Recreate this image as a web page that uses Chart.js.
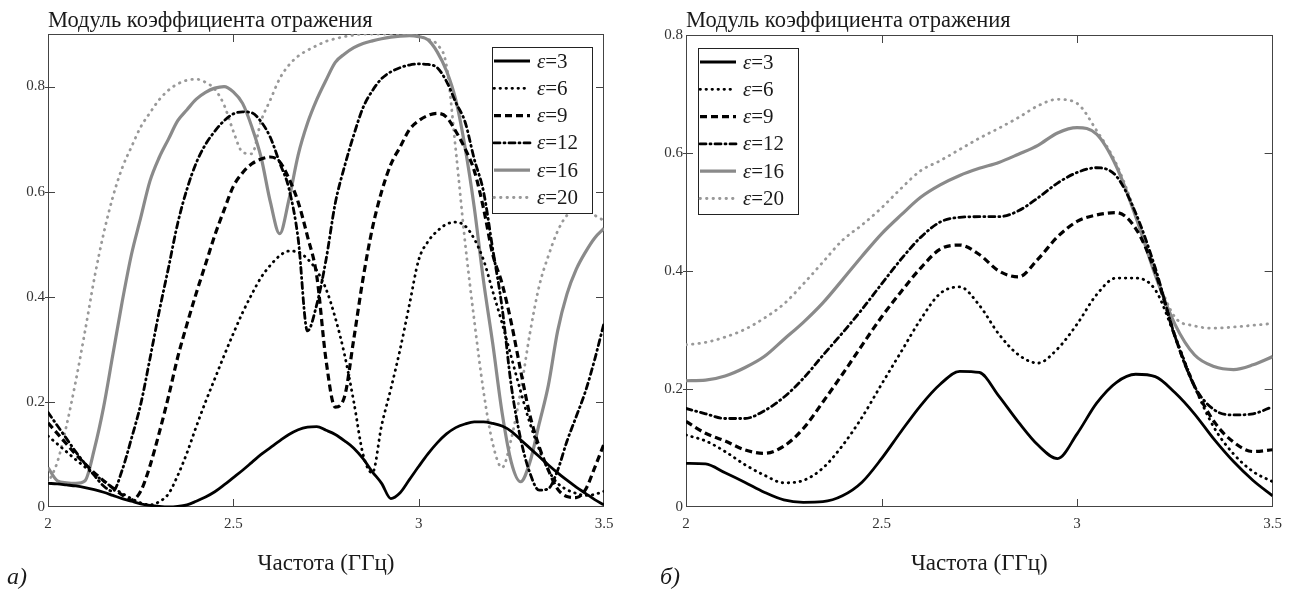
<!DOCTYPE html>
<html>
<head>
<meta charset="utf-8">
<script src="https://cdn.jsdelivr.net/npm/chart.js@4.4.1/dist/chart.umd.min.js"></script>
<style>
  html, body { margin: 0; padding: 0; background: #fff; }
  body { width: 1290px; height: 592px; position: relative; overflow: hidden; }
  .box { position: absolute; top: 0; height: 592px; }
  #boxA { left: 0; width: 640px; }
  #boxB { left: 645px; width: 645px; }
</style>
</head>
<body>
<div class="box" id="boxA"><canvas id="chartA"></canvas></div>
<div class="box" id="boxB"><canvas id="chartB"></canvas></div>
<script>
// --- Données ---
const epsLabels = ['3', '6', '9', '12', '16', '20'];
const xTicks  = [2, 2.5, 3, 3.5];
const xTickLabels = ['2', '2.5', '3', '3.5'];
const yTicksA = [0, 0.2, 0.4, 0.6, 0.8];
const yTicksB = [0, 0.2, 0.4, 0.6, 0.8];
const yTickLabels = ['0', '0.2', '0.4', '0.6', '0.8'];

// chart a) : pas de 0.025 ГГц
const freqA = [
  2, 2.025, 2.05, 2.075, 2.1, 2.125, 2.15, 2.175, 2.2, 2.225,
  2.25, 2.275, 2.3, 2.325, 2.35, 2.375, 2.4, 2.425, 2.45, 2.475,
  2.5, 2.525, 2.55, 2.575, 2.6, 2.625, 2.65, 2.675, 2.7, 2.725,
  2.75, 2.775, 2.8, 2.825, 2.85, 2.875, 2.9, 2.925, 2.95, 2.975,
  3, 3.025, 3.05, 3.075, 3.1, 3.125, 3.15, 3.175, 3.2, 3.225,
  3.25, 3.275, 3.3, 3.325, 3.35, 3.375, 3.4, 3.425, 3.45, 3.475, 3.5
];
const eps3A = [
  0.045, 0.044, 0.042, 0.040, 0.037, 0.033, 0.028, 0.022, 0.016, 0.011,
  0.006, 0.003, 0.001, 0.000, 0.001, 0.004, 0.011, 0.019, 0.029, 0.042,
  0.056, 0.070, 0.085, 0.100, 0.113, 0.126, 0.138, 0.147, 0.152, 0.153,
  0.146, 0.138, 0.126, 0.112, 0.092, 0.067, 0.045, 0.016, 0.027, 0.052,
  0.077, 0.101, 0.122, 0.139, 0.151, 0.158, 0.162, 0.162, 0.159, 0.154,
  0.144, 0.128, 0.112, 0.096, 0.080, 0.065, 0.051, 0.038, 0.026, 0.014, 0.004
];
const eps6A = [
  0.135, 0.120, 0.105, 0.090, 0.076, 0.062, 0.049, 0.037, 0.026, 0.016,
  0.008, 0.004, 0.010, 0.025, 0.060, 0.103, 0.153, 0.200, 0.244, 0.288,
  0.330, 0.370, 0.405, 0.437, 0.460, 0.478, 0.487, 0.485, 0.472, 0.450,
  0.415, 0.360, 0.290, 0.200, 0.100, 0.065, 0.155, 0.225, 0.300, 0.385,
  0.470, 0.505, 0.525, 0.538, 0.542, 0.535, 0.510, 0.470, 0.410, 0.350,
  0.285, 0.220, 0.160, 0.110, 0.070, 0.045, 0.033, 0.026, 0.022, 0.024, 0.030
];
const eps9A = [
  0.160, 0.140, 0.120, 0.100, 0.082, 0.065, 0.050, 0.036, 0.023, 0.013,
  0.030, 0.078, 0.141, 0.210, 0.285, 0.348, 0.407, 0.462, 0.517, 0.565,
  0.610, 0.636, 0.653, 0.662, 0.666, 0.657, 0.625, 0.580, 0.515, 0.440,
  0.280, 0.190, 0.210, 0.320, 0.435, 0.530, 0.600, 0.652, 0.685, 0.718,
  0.735, 0.745, 0.749, 0.742, 0.715, 0.682, 0.640, 0.568, 0.480, 0.425,
  0.350, 0.260, 0.175, 0.115, 0.070, 0.034, 0.020, 0.018, 0.033, 0.075, 0.120
];
const eps12A = [
  0.180, 0.155, 0.130, 0.105, 0.082, 0.060, 0.040, 0.030, 0.070, 0.130,
  0.195, 0.282, 0.372, 0.455, 0.540, 0.605, 0.655, 0.690, 0.715, 0.735,
  0.748, 0.752, 0.750, 0.733, 0.703, 0.655, 0.606, 0.510, 0.335, 0.385,
  0.470, 0.578, 0.648, 0.708, 0.760, 0.792, 0.815, 0.828, 0.836, 0.841,
  0.843, 0.842, 0.836, 0.810, 0.770, 0.733, 0.662, 0.600, 0.490, 0.380,
  0.230, 0.130, 0.065, 0.032, 0.035, 0.070, 0.125, 0.172, 0.220, 0.281, 0.350
];
const eps16A = [
  0.075, 0.050, 0.046, 0.045, 0.050, 0.110, 0.190, 0.290, 0.390, 0.480,
  0.550, 0.620, 0.665, 0.700, 0.735, 0.756, 0.776, 0.789, 0.797, 0.800,
  0.790, 0.768, 0.723, 0.665, 0.580, 0.520, 0.585, 0.670, 0.730, 0.775,
  0.812, 0.846, 0.862, 0.874, 0.882, 0.887, 0.891, 0.894, 0.896, 0.897,
  0.895, 0.889, 0.866, 0.830, 0.775, 0.685, 0.570, 0.430, 0.310, 0.180,
  0.085, 0.048, 0.085, 0.158, 0.232, 0.335, 0.405, 0.452, 0.485, 0.512, 0.530
];
const eps20A = [
  0.045, 0.085, 0.155, 0.240, 0.335, 0.435, 0.520, 0.590, 0.645, 0.685,
  0.723, 0.750, 0.775, 0.793, 0.805, 0.812, 0.814, 0.808, 0.795, 0.765,
  0.715, 0.675, 0.672, 0.735, 0.775, 0.815, 0.841, 0.858, 0.869, 0.878,
  0.886, 0.891, 0.895, 0.898, 0.900, 0.900, 0.900, 0.900, 0.900, 0.899,
  0.896, 0.890, 0.880, 0.840, 0.680, 0.505, 0.355, 0.220, 0.120, 0.075,
  0.130, 0.220, 0.330, 0.420, 0.478, 0.525, 0.555, 0.565, 0.565, 0.555, 0.545
];

// chart б) : pas de 0.05 ГГц
const freqB = [
  2, 2.05, 2.1, 2.15, 2.2, 2.25, 2.3, 2.35, 2.4, 2.45,
  2.5, 2.55, 2.6, 2.65, 2.7, 2.75, 2.8, 2.85, 2.9, 2.95,
  3, 3.05, 3.1, 3.15, 3.2, 3.25, 3.3, 3.35, 3.4, 3.45, 3.5
];
const eps3B = [
  0.074, 0.073, 0.058, 0.042, 0.025, 0.012, 0.008, 0.009, 0.019, 0.042,
  0.082, 0.128, 0.172, 0.208, 0.230, 0.228, 0.188, 0.144, 0.105, 0.082,
  0.124, 0.176, 0.211, 0.225, 0.221, 0.194, 0.158, 0.115, 0.077, 0.045, 0.019
];
const eps6B = [
  0.122, 0.112, 0.094, 0.072, 0.054, 0.041, 0.045, 0.066, 0.104, 0.152,
  0.208, 0.263, 0.318, 0.362, 0.373, 0.342, 0.293, 0.258, 0.244, 0.268,
  0.310, 0.360, 0.388, 0.388, 0.368, 0.290, 0.205, 0.135, 0.090, 0.060, 0.043
];
const eps9B = [
  0.145, 0.125, 0.112, 0.097, 0.091, 0.103, 0.133, 0.178, 0.225, 0.274,
  0.322, 0.365, 0.405, 0.437, 0.444, 0.428, 0.400, 0.390, 0.420, 0.458,
  0.484, 0.495, 0.499, 0.472, 0.398, 0.290, 0.205, 0.145, 0.110, 0.094, 0.097
];
const eps12B = [
  0.167, 0.158, 0.150, 0.150, 0.163, 0.186, 0.218, 0.257, 0.295, 0.335,
  0.378, 0.420, 0.457, 0.483, 0.491, 0.492, 0.492, 0.502, 0.524, 0.549,
  0.567, 0.575, 0.561, 0.498, 0.405, 0.290, 0.205, 0.165, 0.156, 0.158, 0.170
];
const eps16B = [
  0.214, 0.215, 0.222, 0.236, 0.255, 0.284, 0.313, 0.346, 0.385, 0.425,
  0.463, 0.495, 0.525, 0.546, 0.562, 0.574, 0.584, 0.598, 0.613, 0.634,
  0.643, 0.632, 0.578, 0.492, 0.393, 0.310, 0.258, 0.238, 0.233, 0.241, 0.255
];
const eps20B = [
  0.275, 0.279, 0.288, 0.301, 0.320, 0.344, 0.378, 0.415, 0.452, 0.478,
  0.507, 0.540, 0.570, 0.587, 0.606, 0.625, 0.642, 0.660, 0.680, 0.691,
  0.684, 0.638, 0.582, 0.497, 0.398, 0.322, 0.307, 0.303, 0.305, 0.308, 0.311
];

// --- Styles des courbes (un par ε) ---
const lineStyles = [
  { color: '#000000', width: 2.8, dash: [],            cap: 'butt'  },
  { color: '#000000', width: 2.8, dash: [0.5, 5.5],    cap: 'round' },
  { color: '#000000', width: 3.2, dash: [7, 4],        cap: 'butt'  },
  { color: '#000000', width: 2.8, dash: [6, 4, 1, 4],  cap: 'round' },
  { color: '#8a8a8a', width: 3.2, dash: [],            cap: 'butt'  },
  { color: '#999999', width: 2.8, dash: [0.5, 6],      cap: 'round' }
];

const FONT = '"Liberation Serif", "Times New Roman", serif';
const TITLE = 'Модуль коэффициента отражения';
const XTITLE = 'Частота (ГГц)';

function buildDatasets(freq, series) {
  return series.map((vals, i) => ({
    label: 'ε=' + epsLabels[i],
    data: freq.map((f, k) => ({ x: f, y: vals[k] })),
    borderColor: lineStyles[i].color,
    borderWidth: lineStyles[i].width,
    borderDash: lineStyles[i].dash,
    borderCapStyle: lineStyles[i].cap,
    borderJoinStyle: 'round',
    pointRadius: 0,
    fill: false,
    tension: 0.4,
    cubicInterpolationMode: 'monotone'
  }));
}

// --- Cadre, graduations intérieures, titre, légende ---
function makeDecor(legendSide, tag, tagX) {
  return {
    id: 'decor',
    beforeDatasetsDraw(chart) {
      const { ctx, chartArea: a, scales: { x, y } } = chart;
      ctx.save();
      ctx.strokeStyle = '#444';
      ctx.lineWidth = 1;
      ctx.strokeRect(Math.round(a.left) + 0.5, Math.round(a.top) + 0.5,
        Math.round(a.right - a.left) - 1, Math.round(a.bottom - a.top) - 1);
      ctx.beginPath();
      x.ticks.forEach(t => {
        const px = Math.round(x.getPixelForValue(t.value)) + 0.5;
        if (px < a.left + 2 || px > a.right - 2) return;
        ctx.moveTo(px, a.bottom); ctx.lineTo(px, a.bottom - 8);
        ctx.moveTo(px, a.top);    ctx.lineTo(px, a.top + 8);
      });
      y.ticks.forEach(t => {
        const py = Math.round(y.getPixelForValue(t.value)) + 0.5;
        if (py < a.top + 2 || py > a.bottom - 2) return;
        ctx.moveTo(a.left - 3, py); ctx.lineTo(a.left + 7, py);
        ctx.moveTo(a.right, py);    ctx.lineTo(a.right - 8, py);
      });
      ctx.stroke();
      ctx.restore();
    },
    afterDatasetsDraw(chart) {
      const { ctx, chartArea: a } = chart;
      const w = 100, h = 166;
      const lx = legendSide === 'right' ? a.right - 12 - w : a.left + 12;
      const ly = a.top + 13;
      ctx.save();
      ctx.fillStyle = '#fff';
      ctx.fillRect(lx, ly, w, h);
      ctx.strokeStyle = '#222';
      ctx.lineWidth = 1;
      ctx.setLineDash([]);
      ctx.strokeRect(lx + 0.5, ly + 0.5, w, h);
      chart.data.datasets.forEach((ds, i) => {
        const yy = ly + 14 + i * 27.3;
        ctx.beginPath();
        ctx.strokeStyle = ds.borderColor;
        ctx.lineWidth = ds.borderWidth;
        ctx.setLineDash(ds.borderDash);
        ctx.lineCap = ds.borderCapStyle;
        ctx.moveTo(lx + 2, yy);
        ctx.lineTo(lx + 38, yy);
        ctx.stroke();
        ctx.setLineDash([]);
        ctx.fillStyle = '#1a1a1a';
        ctx.textBaseline = 'middle';
        ctx.textAlign = 'left';
        ctx.font = 'italic 21px ' + FONT;
        ctx.fillText('ε', lx + 45, yy + 1);
        const ew = ctx.measureText('ε').width;
        ctx.font = '21px ' + FONT;
        ctx.fillText('=' + epsLabels[i], lx + 45 + ew, yy + 1);
      });
      ctx.restore();
    },
    afterDraw(chart) {
      const { ctx, chartArea: a } = chart;
      ctx.save();
      ctx.fillStyle = '#1a1a1a';
      ctx.textBaseline = 'alphabetic';
      ctx.textAlign = 'left';
      ctx.font = '22.5px ' + FONT;
      ctx.fillText(TITLE, a.left, 27);
      ctx.font = 'italic 24px ' + FONT;
      ctx.fillText(tag, tagX, 584);
      ctx.restore();
    }
  };
}

function makeChart(canvasId, freq, series, yMax, yTicks, pad, yWidth, legendSide, tag, tagX) {
  const ctx = document.getElementById(canvasId).getContext('2d');
  return new Chart(ctx, {
    type: 'line',
    data: { datasets: buildDatasets(freq, series) },
    options: {
      responsive: true,
      maintainAspectRatio: false,
      animation: false,
      devicePixelRatio: 1,
      layout: { padding: pad },
      plugins: { legend: { display: false }, tooltip: { enabled: false } },
      scales: {
        x: {
          type: 'linear',
          min: 2, max: 3.5,
          afterBuildTicks: s => { s.ticks = xTicks.map(v => ({ value: v })); },
          afterFit: s => { s.height = 85; },
          grid: { display: false, drawTicks: false },
          border: { display: false },
          ticks: { color: '#333', padding: 8, maxRotation: 0, font: { family: FONT, size: 15 },
                   callback: (v, i) => xTickLabels[i] },
          title: { display: true, text: XTITLE, color: '#1a1a1a', padding: { top: 0, bottom: 14 },
                   font: { family: FONT, size: 23 } }
        },
        y: {
          type: 'linear',
          min: 0, max: yMax,
          afterBuildTicks: s => { s.ticks = yTicks.map(v => ({ value: v })); },
          afterFit: s => { s.width = yWidth; },
          grid: { display: false, drawTicks: false },
          border: { display: false },
          ticks: { color: '#333', padding: 3, font: { family: FONT, size: 15 },
                   callback: (v, i) => yTickLabels[i] }
        }
      }
    },
    plugins: [makeDecor(legendSide, tag, tagX)]
  });
}

makeChart('chartA', freqA, [eps3A, eps6A, eps9A, eps12A, eps16A, eps20A], 0.9, yTicksA,
  { left: 0, right: 36, top: 34, bottom: 0 }, 48, 'right', 'а)', 7);
makeChart('chartB', freqB, [eps3B, eps6B, eps9B, eps12B, eps16B, eps20B], 0.8, yTicksB,
  { left: 0, right: 16, top: 35, bottom: 0 }, 41, 'left', 'б)', 15);
</script>
</body>
</html>
